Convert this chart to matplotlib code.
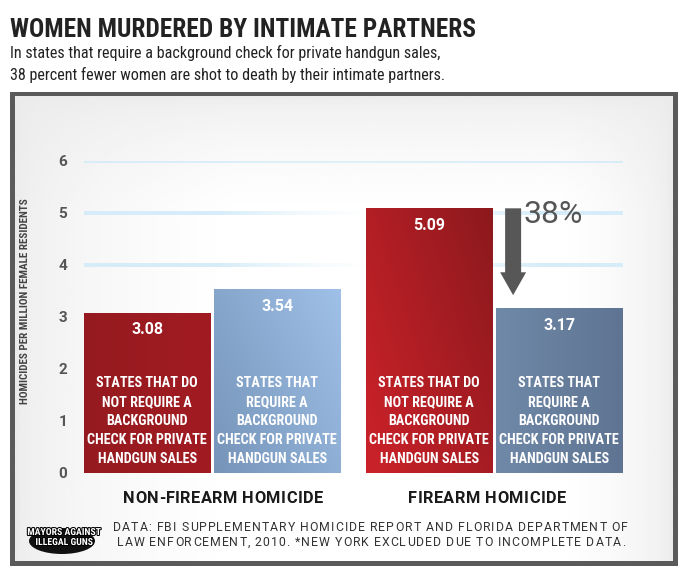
import matplotlib.pyplot as plt
import matplotlib.patheffects as pe
from matplotlib.patches import Rectangle, FancyArrow, Ellipse
from matplotlib.font_manager import FontProperties
import numpy as np

# data
groups = ["NON-FIREARM HOMICIDE", "FIREARM HOMICIDE"]
no_check = [3.08, 5.09]
with_check = [3.54, 3.17]
no_check_label = "STATES THAT DO\nNOT REQUIRE A\nBACKGROUND\nCHECK FOR PRIVATE\nHANDGUN SALES"
with_check_label = "STATES THAT\nREQUIRE A\nBACKGROUND\nCHECK FOR PRIVATE\nHANDGUN SALES"
y_ticks = [0, 1, 2, 3, 4, 5, 6]
drop_label = "38%"
source_lines = ["DATA: FBI SUPPLEMENTARY HOMICIDE REPORT AND FLORIDA DEPARTMENT OF",
                "LAW ENFORCEMENT, 2010. *NEW YORK EXCLUDED DUE TO INCOMPLETE DATA."]

COND = ["Roboto Condensed", "DejaVu Sans"]
plt.rcParams['font.family'] = COND

fig = plt.figure(figsize=(6.8, 5.83), dpi=100)
W, H = 680, 583
renderer = fig.canvas.get_renderer()

def fx(px):
    return px / W

def fy(py):
    return 1 - py / H

def tracked_text(x0, y0, s, target, size, weight='normal', color='#333333', family='Roboto Condensed'):
    # spread characters so the string fills `target` pixels, starting at pixel x0 (baseline y0)
    fp = FontProperties(family=family, size=size, weight=weight)
    widths = [renderer.get_text_width_height_descent(s[:i], fp, ismath=False)[0] if i else 0
              for i in range(len(s) + 1)]
    extra = (target - widths[-1]) / (len(s) - 1)
    for i, ch in enumerate(s):
        if ch == ' ':
            continue
        fig.text(fx(x0 + widths[i] + i * extra), fy(y0), ch, fontproperties=fp, color=color,
                 ha='left', va='baseline')

# background frame
bg = fig.add_axes([0, 0, 1, 1], zorder=-10)
bg.set_xlim(0, W)
bg.set_ylim(H, 0)
bg.axis('off')
bg.add_patch(Rectangle((10, 92), 668, 474, facecolor='#5a5a5a', edgecolor='none'))
grad = np.linspace(0, 1, 200)
gx, gy = np.meshgrid(grad, grad)
shade = 0.92 + 0.08 * np.minimum(1, np.sqrt(np.clip(gx * 3, 0, 1) * np.clip((1 - gx) * 6, 0, 1) * np.clip(gy * 4, 0, 1)))
bg.imshow(shade, extent=(15, 673, 561, 96), cmap='gray', vmin=0, vmax=1, aspect='auto', zorder=1)

# title block
fig.text(fx(10), fy(37), "WOMEN MURDERED BY INTIMATE PARTNERS", fontsize=18.3, fontweight='bold',
         color='#222222', ha='left', va='baseline')
fig.text(fx(10), fy(58), "In states that require a background check for private handgun sales,",
         fontsize=11.6, color='#222222', ha='left', va='baseline')
fig.text(fx(10), fy(80), "38 percent fewer women are shot to death by their intimate partners.",
         fontsize=11.6, color='#222222', ha='left', va='baseline')

# chart axes
ax = fig.add_axes([fx(84), fy(473), fx(623) - fx(84), fy(161) - fy(473)])
ax.set_xlim(-0.485, 3.66)
ax.set_ylim(0, 6)
ax.patch.set_visible(False)
for s in ax.spines.values():
    s.set_visible(False)
ax.set_xticks([])
ax.set_yticks(y_ticks)
ax.set_yticklabels([str(t) for t in y_ticks], fontsize=11, fontweight='bold', color='#555555',
                   family='Roboto')
ax.tick_params(axis='y', length=0, pad=12)

# faded grid lines
u = np.linspace(0, 1, 300)[None, :]
for t in y_ticks[4:]:
    if t == 6:
        alpha = np.clip(0.75 + 0.25 * np.abs(u - 0.5) / 0.5, 0, 1)
    else:
        alpha = np.clip(np.abs(u - 0.55) / 0.3, 0.0, 1) ** 1.5
    img = np.dstack([np.full_like(u, 0.84), np.full_like(u, 0.93), np.full_like(u, 0.98), alpha])
    ax.imshow(img, extent=(-0.485, 3.66, t - 0.03, t + 0.03), aspect='auto', zorder=1)

ax.set_ylabel("HOMICIDES PER MILLION FEMALE RESIDENTS", fontsize=8, fontweight='bold', color='#444444')
ax.yaxis.set_label_coords(-0.1, 0.55)

width = 0.97
centers_no = [0, 2.17]
centers_yes = [1, 3.17]

def hexrgb(h):
    h = h.lstrip('#')
    return np.array([int(h[i:i + 2], 16) / 255 for i in (0, 2, 4)])

def grad_bar(x, h, c0, c1, diag=False):
    rect = Rectangle((x - width / 2, 0), width, h, facecolor='none', edgecolor='none')
    ax.add_patch(rect)
    n = 100
    s = np.linspace(0, 1, n)
    uu, vv = np.meshgrid(s, s)
    t = uu if not diag else np.clip(0.6 * uu + 0.4 * vv, 0, 1)
    a, b = hexrgb(c0), hexrgb(c1)
    img = a[None, None, :] * (1 - t[..., None]) + b[None, None, :] * t[..., None]
    im = ax.imshow(img, extent=(x - width / 2, x + width / 2, 0, h), origin='lower', aspect='auto', zorder=2)
    im.set_clip_path(rect)

grad_bar(centers_no[0], no_check[0], '#951a1f', '#a11c22')
grad_bar(centers_yes[0], with_check[0], '#7694b8', '#9fc0e8', diag=True)
grad_bar(centers_no[1], no_check[1], '#cc222a', '#8c191d', diag=True)
grad_bar(centers_yes[1], with_check[1], '#7089a8', '#5e7492')

for xs, vals, lab in [(centers_no, no_check, no_check_label), (centers_yes, with_check, with_check_label)]:
    for x, v in zip(xs, vals):
        ax.text(x, v - 0.33, f"{v:.2f}", ha='center', va='center', color='white', fontsize=11.5,
                fontweight='bold', family='Roboto', zorder=4)
        ax.text(x, 1.0, lab, ha='center', va='center', color='white', fontsize=10.2,
                fontweight='bold', linespacing=1.45, zorder=4)

# group labels, letter-spaced
group_px = [(123, 200), (408, 158)]
for g, (x0, tw) in zip(groups, group_px):
    tracked_text(x0, 503, g, tw, 11.8, weight='bold', color='#1a1a1a', family='Roboto')

# 38% arrow
top = no_check[1]
tip = with_check[1] + 0.25
ax.add_patch(FancyArrow(2.815, top, 0, tip - top, width=0.123, head_width=0.2, head_length=0.44,
                        length_includes_head=True, facecolor='#575757', edgecolor='none', zorder=5))
ax.text(2.895, 4.98, drop_label, ha='left', va='center', fontsize=23, color='#555555',
        family='Roboto', zorder=5)

# footer logo
bg.add_patch(Ellipse((62, 541), 66, 26, facecolor='#111111', edgecolor='none', zorder=3))
bg.text(64, 537, "MAYORS AGAINST\nILLEGAL GUNS", ha='center', va='center', fontsize=7, fontweight='bold',
        color='white', linespacing=1.0, zorder=4,
        path_effects=[pe.withStroke(linewidth=1.5, foreground='black')])

tracked_text(113, 531, source_lines[0], 515, 8.8, family='Roboto')
tracked_text(117, 546, source_lines[1], 508, 8.8, family='Roboto')

fig.savefig("out.png", dpi=100, facecolor='white')
